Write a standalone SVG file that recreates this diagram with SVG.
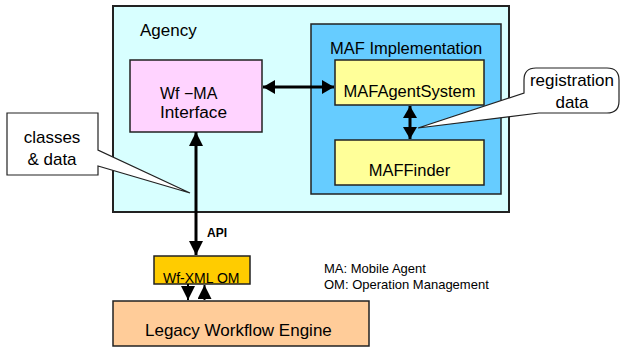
<svg xmlns="http://www.w3.org/2000/svg" width="621" height="349" viewBox="0 0 621 349">
<style>
  text { font-family: "Liberation Sans", Arial, sans-serif; fill: #000; }
  .t16 { font-size: 16.5px; }
  .t17 { font-size: 17px; }
  .box { stroke: #222; stroke-width: 1.5; }
  .call { fill: #fff; stroke: #222; stroke-width: 1.2; }
  .conn { stroke: #000; stroke-width: 3; fill: none; }
  .thin { stroke: #000; stroke-width: 2; fill: none; }
</style>
<defs>
  <marker id="ah" viewBox="0 0 12 14" refX="12" refY="7" markerWidth="12" markerHeight="14" markerUnits="userSpaceOnUse" orient="auto-start-reverse">
    <path d="M0,0 L12,7 L0,14 Z" fill="#000"/>
  </marker>
  <marker id="ahs" viewBox="0 0 14 14" refX="14" refY="7" markerWidth="14" markerHeight="14" markerUnits="userSpaceOnUse" orient="auto-start-reverse">
    <path d="M0,0 L14,7 L0,14 Z" fill="#000"/>
  </marker>
</defs>

<g id="agency">
  <rect x="113" y="6" width="396" height="206" fill="#d8ffff" stroke="#222" stroke-width="2"/>
  <text class="t17" x="140" y="36">Agency</text>
</g>

<g id="wf-ma-interface">
  <rect class="box" x="130" y="60" width="132" height="72" fill="#ffd3ff"/>
  <text x="160" y="99" font-size="16">Wf −MA</text>
  <text x="160" y="118" font-size="16" textLength="67" lengthAdjust="spacingAndGlyphs">Interface</text>
</g>

<g id="maf-implementation">
  <rect class="box" x="311" y="24" width="190" height="170" fill="#66ccff"/>
  <text class="t16" x="330" y="54">MAF Implementation</text>
</g>

<g id="mafagentsystem">
  <rect class="box" x="335" y="60" width="149" height="45" fill="#ffff99"/>
  <text class="t16" x="409.5" y="97" text-anchor="middle">MAFAgentSystem</text>
</g>

<g id="maffinder">
  <rect class="box" x="335" y="140" width="149" height="45" fill="#ffff99"/>
  <text class="t16" x="409.5" y="176" text-anchor="middle">MAFFinder</text>
</g>

<g id="wf-xml-om">
  <rect class="box" x="154" y="256" width="96" height="28" fill="#ffcc00"/>
  <text x="163" y="283" font-size="14">Wf-XML OM</text>
</g>

<g id="legacy-workflow-engine">
  <rect class="box" x="113" y="301" width="256" height="45" fill="#ffcc99"/>
  <text class="t17" x="145" y="336">Legacy Workflow Engine</text>
</g>

<g id="classes-data">
  <path class="call" d="M7,113 H98 V150 L190,193 L98,166 V175 H7 Z"/>
  <text class="t17" x="52" y="143" text-anchor="middle">classes</text>
  <text class="t17" x="52" y="165" text-anchor="middle">&amp; data</text>
</g>

<g id="registration-data">
  <path class="call" d="M536,68 H607 Q619,68 619,80 V101 Q619,113 607,113 H539 L418,128 L524,93 V80 Q524,68 536,68 Z"/>
  <text class="t17" x="572" y="86" text-anchor="middle">registration</text>
  <text class="t17" x="572" y="108" text-anchor="middle">data</text>
</g>

<g id="legend">
  <text x="324" y="273" font-size="13">MA: Mobile Agent</text>
  <text x="324" y="289" font-size="13">OM: Operation Management</text>
</g>

<g id="connectors">
  <line class="conn" x1="263" y1="87" x2="334" y2="87" marker-start="url(#ah)" marker-end="url(#ah)"/>
  <line class="conn" x1="410" y1="106" x2="410" y2="139" marker-start="url(#ah)" marker-end="url(#ah)"/>
  <line class="conn" x1="196" y1="132" x2="196" y2="255" marker-start="url(#ahs)" marker-end="url(#ahs)"/>
  <text x="207" y="237" font-size="12" font-weight="bold">API</text>
  <line class="thin" x1="188" y1="284" x2="188" y2="300" marker-end="url(#ahs)"/>
  <line class="thin" x1="204.5" y1="300" x2="204.5" y2="285" marker-end="url(#ahs)"/>
</g>
</svg>
